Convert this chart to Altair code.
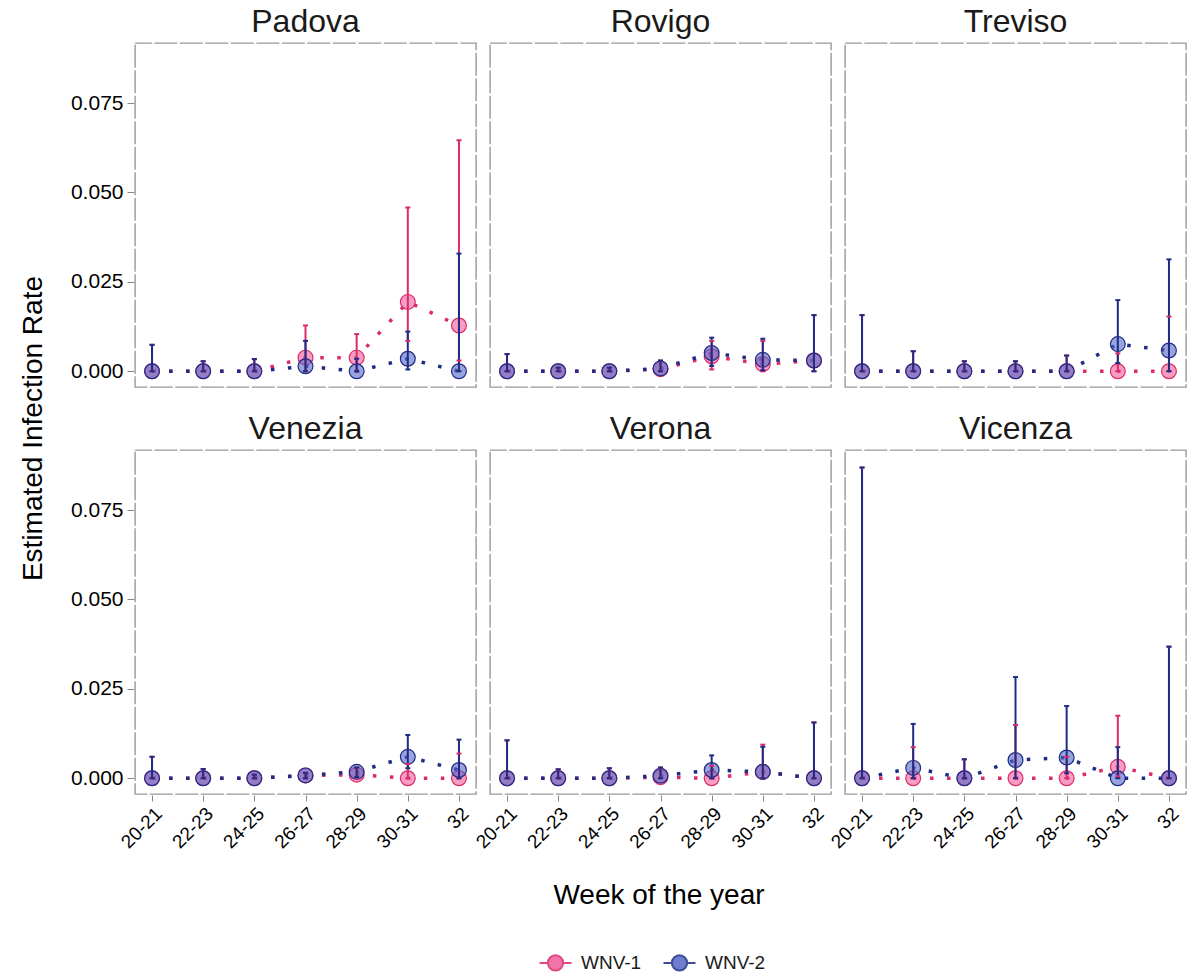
import altair as alt
import pandas as pd

weeks = ["20-21", "22-23", "24-25", "26-27", "28-29", "30-31", "32"]
provinces = ["Padova", "Rovigo", "Treviso", "Venezia", "Verona", "Vicenza"]
series_names = ["WNV-1", "WNV-2"]

padova_wnv1_rate = [0, 0, 0, 0.0038, 0.0038, 0.0194, 0.0128]
padova_wnv1_low = [0, 0, 0, 0, 0, 0.0085, 0.003]
padova_wnv1_high = [0.0074, 0.0028, 0.0034, 0.0128, 0.0104, 0.0458, 0.0646]
padova_wnv2_rate = [0, 0, 0, 0.0014, 0, 0.0035, 0]
padova_wnv2_low = [0, 0, 0, 0, 0, 0.0005, 0]
padova_wnv2_high = [0.0074, 0.0028, 0.0034, 0.0085, 0.0035, 0.0111, 0.0329]

rovigo_wnv1_rate = [0, 0, 0, 0.0006, 0.0042, 0.002, 0.003]
rovigo_wnv1_low = [0, 0, 0, 0, 0.0005, 0, 0]
rovigo_wnv1_high = [0.0048, 0.001, 0.001, 0.003, 0.0085, 0.0085, 0.0157]
rovigo_wnv2_rate = [0, 0, 0, 0.0008, 0.0051, 0.0032, 0.003]
rovigo_wnv2_low = [0, 0, 0, 0, 0.0015, 0.0003, 0]
rovigo_wnv2_high = [0.0048, 0.001, 0.001, 0.003, 0.0094, 0.0091, 0.0157]

treviso_wnv1_rate = [0, 0, 0, 0, 0, 0, 0]
treviso_wnv1_low = [0, 0, 0, 0, 0, 0, 0]
treviso_wnv1_high = [0.0157, 0.0056, 0.0028, 0.0028, 0.0044, 0.005, 0.0153]
treviso_wnv2_rate = [0, 0, 0, 0, 0, 0.0076, 0.0058]
treviso_wnv2_low = [0, 0, 0, 0, 0, 0.0023, 0]
treviso_wnv2_high = [0.0157, 0.0056, 0.0028, 0.0028, 0.0044, 0.0199, 0.0313]

venezia_wnv1_rate = [0, 0, 0, 0.0008, 0.001, 0, 0]
venezia_wnv1_low = [0, 0, 0, 0, 0, 0, 0]
venezia_wnv1_high = [0.006, 0.0026, 0.001, 0.0015, 0.003, 0.004, 0.0069]
venezia_wnv2_rate = [0, 0, 0, 0.0008, 0.0018, 0.006, 0.0023]
venezia_wnv2_low = [0, 0, 0, 0, 0.0003, 0.0028, 0]
venezia_wnv2_high = [0.006, 0.0026, 0.001, 0.0015, 0.003, 0.0121, 0.0108]

verona_wnv1_rate = [0, 0, 0, 0.0003, 0, 0.0018, 0]
verona_wnv1_low = [0, 0, 0, 0, 0, 0, 0]
verona_wnv1_high = [0.0106, 0.0025, 0.0028, 0.003, 0.0035, 0.0094, 0.0156]
verona_wnv2_rate = [0, 0, 0, 0.0007, 0.0023, 0.0018, 0]
verona_wnv2_low = [0, 0, 0, 0, 0, 0, 0]
verona_wnv2_high = [0.0106, 0.0025, 0.0028, 0.003, 0.0064, 0.0088, 0.0156]

vicenza_wnv1_rate = [0, 0, 0, 0, 0, 0.0032, 0]
vicenza_wnv1_low = [0, 0, 0, 0, 0, 0.0005, 0]
vicenza_wnv1_high = [0.0869, 0.0087, 0.0053, 0.0149, 0.006, 0.0175, 0.0368]
vicenza_wnv2_rate = [0, 0.0029, 0, 0.0051, 0.0058, 0, 0]
vicenza_wnv2_low = [0, 0, 0, 0, 0.0014, 0, 0]
vicenza_wnv2_high = [0.0869, 0.0152, 0.0053, 0.0283, 0.0202, 0.0087, 0.0368]

x_title_text = ["Week of the year"]

table = {
    ("Padova", "WNV-1"): (padova_wnv1_rate, padova_wnv1_low, padova_wnv1_high),
    ("Padova", "WNV-2"): (padova_wnv2_rate, padova_wnv2_low, padova_wnv2_high),
    ("Rovigo", "WNV-1"): (rovigo_wnv1_rate, rovigo_wnv1_low, rovigo_wnv1_high),
    ("Rovigo", "WNV-2"): (rovigo_wnv2_rate, rovigo_wnv2_low, rovigo_wnv2_high),
    ("Treviso", "WNV-1"): (treviso_wnv1_rate, treviso_wnv1_low, treviso_wnv1_high),
    ("Treviso", "WNV-2"): (treviso_wnv2_rate, treviso_wnv2_low, treviso_wnv2_high),
    ("Venezia", "WNV-1"): (venezia_wnv1_rate, venezia_wnv1_low, venezia_wnv1_high),
    ("Venezia", "WNV-2"): (venezia_wnv2_rate, venezia_wnv2_low, venezia_wnv2_high),
    ("Verona", "WNV-1"): (verona_wnv1_rate, verona_wnv1_low, verona_wnv1_high),
    ("Verona", "WNV-2"): (verona_wnv2_rate, verona_wnv2_low, verona_wnv2_high),
    ("Vicenza", "WNV-1"): (vicenza_wnv1_rate, vicenza_wnv1_low, vicenza_wnv1_high),
    ("Vicenza", "WNV-2"): (vicenza_wnv2_rate, vicenza_wnv2_low, vicenza_wnv2_high),
}

rows = []
for prov in provinces:
    for s in series_names:
        rate, low, high = table[(prov, s)]
        for i, w in enumerate(weeks):
            rows.append({"province": prov, "series": s, "week": w,
                         "rate": rate[i], "low": low[i], "high": high[i]})
df = pd.DataFrame(rows)

FONT = "Liberation Sans"

stroke_scale = alt.Scale(domain=series_names, range=["#DB2B6B", "#1F2C86"])
fill_scale = alt.Scale(domain=series_names, range=["#F25C9C", "#5468C6"])
y_scale = alt.Scale(domain=[-0.0044, 0.0918], nice=False, zero=False)
x_scale = alt.Scale(type="point", padding=0.333)

legend = alt.Legend(
    title=None, orient="none", direction="horizontal",
    legendX=411, legendY=910,
    labelFontSize=19, labelFont=FONT, labelColor="#1a1a1a",
    symbolType="M-2,0H-0.95M0.95,0H2M-0.95,0A0.95,0.95,0,1,1,0.95,0A0.95,0.95,0,1,1,-0.95,0Z",
    symbolSize=256, symbolStrokeWidth=2, symbolOpacity=0.85,
    columnPadding=17, labelOffset=16,
)

x_enc = alt.X(
    "week:N", sort=weeks, scale=x_scale,
    axis=alt.Axis(title=None, labelAngle=-45, labelFontSize=19, labelPadding=3,
                  grid=False, domain=False, tickSize=6),
)
y_axis = alt.Axis(title=None, values=[0, 0.025, 0.05, 0.075], format=".3f",
                  labelFontSize=21, labelPadding=4, grid=False, domain=False, tickSize=7)

stroke_enc = alt.Stroke("series:N", scale=stroke_scale, legend=legend)
fill_enc = alt.Fill("series:N", scale=fill_scale, legend=legend)

base = alt.Chart().encode(x=x_enc)

lines = base.mark_line(strokeDash=[3.5, 13.5], strokeWidth=3.5).encode(
    y=alt.Y("rate:Q", scale=y_scale, axis=y_axis),
    stroke=stroke_enc,
)
points = base.mark_circle(size=220, fillOpacity=0.6, opacity=1, strokeWidth=1.2).encode(
    y=alt.Y("rate:Q", scale=y_scale, axis=y_axis),
    fill=fill_enc,
    stroke=stroke_enc,
)
bars = base.mark_rule(strokeWidth=2).encode(
    y=alt.Y("low:Q", scale=y_scale, axis=y_axis),
    y2="high:Q",
    stroke=stroke_enc,
)
caps_hi = base.mark_rule(strokeWidth=2, xOffset=-2.5, x2Offset=2.5).encode(
    x2=alt.X2("week:N"),
    y=alt.Y("high:Q", scale=y_scale, axis=y_axis),
    stroke=stroke_enc,
)
caps_lo = base.mark_rule(strokeWidth=2, xOffset=-2.5, x2Offset=2.5).encode(
    x2=alt.X2("week:N"),
    y=alt.Y("low:Q", scale=y_scale, axis=y_axis),
    stroke=stroke_enc,
)

panel_view = alt.ViewBackground(stroke="#999999", strokeWidth=1.4,
                                strokeDash=[23, 2.5], strokeDashOffset=6.25)

facet = alt.layer(lines, points, bars, caps_hi, caps_lo, data=df).properties(
    width=341, height=344, view=panel_view
).facet(
    facet=alt.Facet("province:N", sort=provinces, title=None,
                    header=alt.Header(labelFontSize=32, labelFont=FONT,
                                      labelColor="#1a1a1a", labelPadding=4)),
    columns=3,
    spacing={"row": 24, "column": 12},
).properties(
    title=alt.TitleParams("Estimated Infection Rate", orient="left", anchor="middle",
                          fontSize=28, font=FONT, fontWeight="normal",
                          color="#000000", offset=22)
)

x_title = alt.Chart(pd.DataFrame({"label": x_title_text})).mark_text(
    fontSize=28, font=FONT, color="#000000", dx=4
).encode(text="label:N").properties(
    width=1040, height=30, view=alt.ViewBackground(strokeOpacity=0)
)

chart = alt.vconcat(facet, x_title, spacing=29).configure_view(
    stroke="#999999", strokeWidth=1.4
).configure_axis(
    grid=False, domain=False, tickColor="#333333",
    labelFont=FONT, titleFont=FONT, labelColor="#4d4d4d",
).configure(
    background="white", padding={"left": 20, "top": 5, "right": 5, "bottom": 0}
)

chart.save("out.html", embed_options={"renderer": "svg", "actions": False})
